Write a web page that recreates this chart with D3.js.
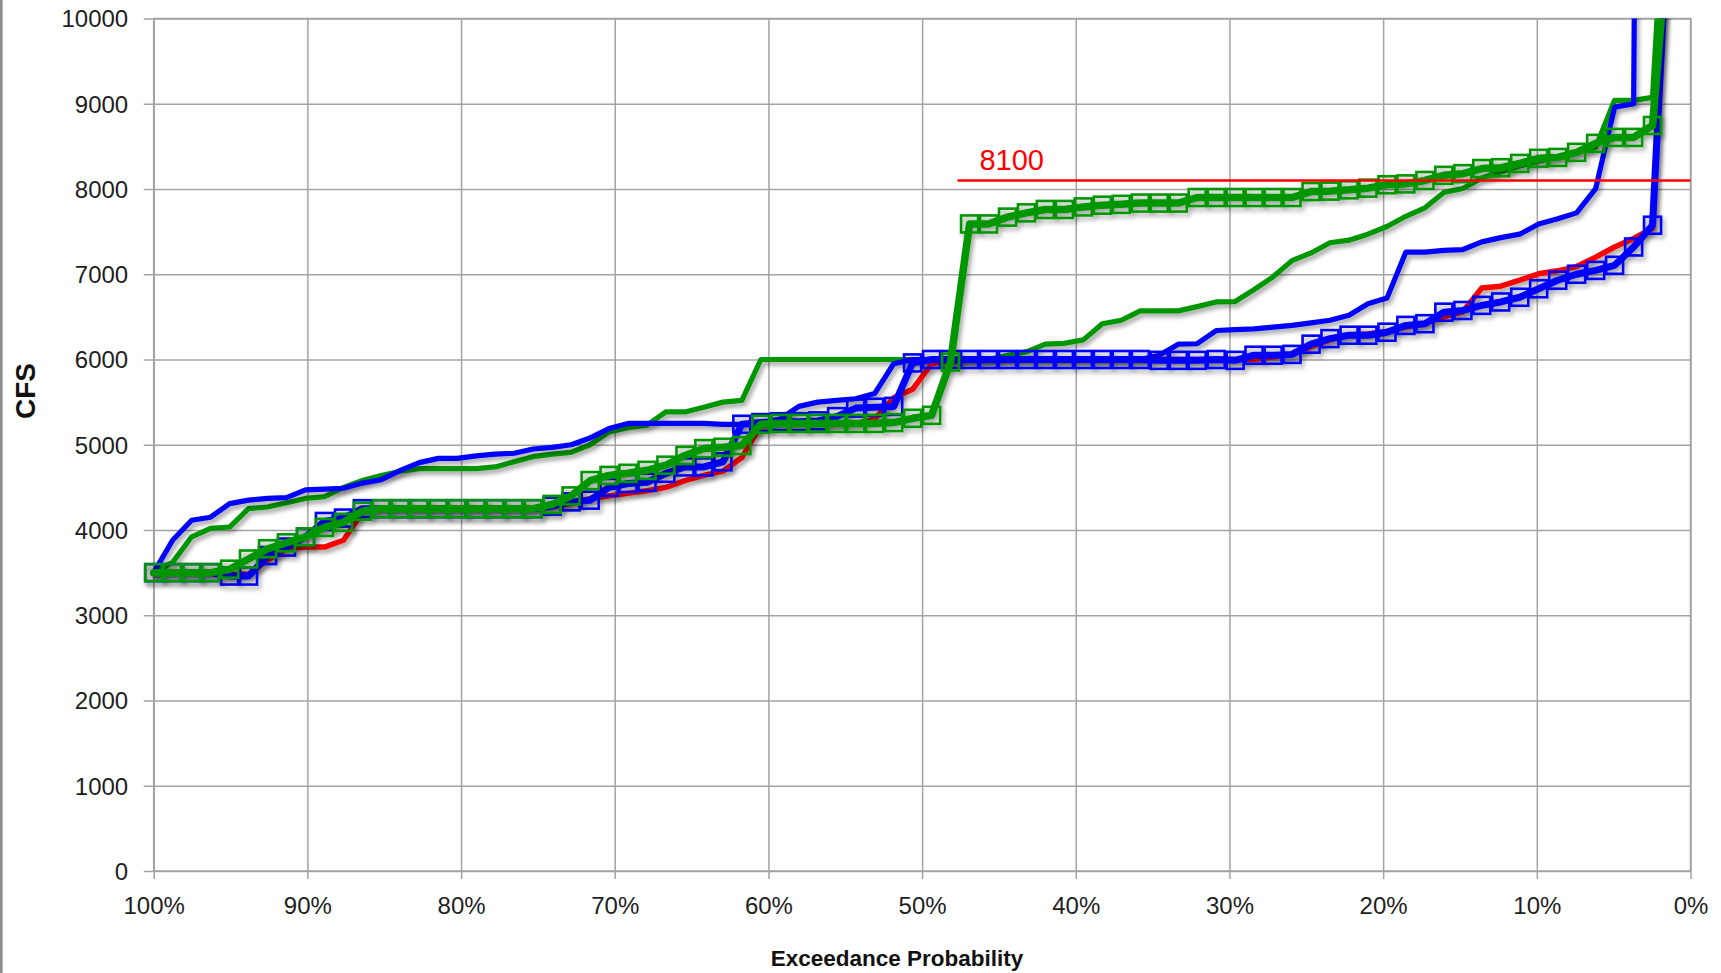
<!DOCTYPE html>
<html>
<head>
<meta charset="utf-8">
<script src="https://cdn.jsdelivr.net/npm/d3@7"></script>
<style>
  html, body { margin: 0; padding: 0; background: #fff; }
  svg { display: block; }
  text { font-family: "Liberation Sans", Arial, sans-serif; }
</style>
</head>
<body>
<svg id="chart" width="1721" height="973"></svg>
<script>
// ---------------- DATA ----------------
const exceedancePct = [100.00, 98.77, 97.53, 96.30, 95.06, 93.83, 92.59, 91.36, 90.12, 88.89,
  87.65, 86.42, 85.19, 83.95, 82.72, 81.48, 80.25, 79.01, 77.78, 76.54,
  75.31, 74.07, 72.84, 71.60, 70.37, 69.14, 67.90, 66.67, 65.43, 64.20,
  62.96, 61.73, 60.49, 59.26, 58.02, 56.79, 55.56, 54.32, 53.09, 51.85,
  50.62, 49.38, 48.15, 46.91, 45.68, 44.44, 43.21, 41.98, 40.74, 39.51,
  38.27, 37.04, 35.80, 34.57, 33.33, 32.10, 30.86, 29.63, 28.40, 27.16,
  25.93, 24.69, 23.46, 22.22, 20.99, 19.75, 18.52, 17.28, 16.05, 14.81,
  13.58, 12.35, 11.11, 9.88, 8.64, 7.41, 6.17, 4.94, 3.70, 2.47, 1.23];

const blueThin = [3500, 3880, 4115, 4150, 4310, 4350, 4370, 4380, 4470, 4480,
  4490, 4550, 4590, 4700, 4790, 4840, 4840, 4870, 4890, 4900,
  4950, 4970, 5000, 5080, 5190, 5250, 5250, 5250, 5250, 5250,
  5240, 5240, 5260, 5300, 5450, 5500, 5520, 5540, 5600, 5950,
  6000, 6000, 6000, 6000, 6000, 6000, 6000, 6000, 6000, 6000,
  6000, 6000, 6000, 6050, 6180, 6185, 6340, 6350, 6360, 6380,
  6400, 6430, 6460, 6520, 6655, 6720, 7260, 7260, 7280, 7290,
  7380, 7430, 7470, 7590, 7650, 7720, 8005, 8960, 9000, 40000, 50000];

const greenThin = [3500, 3620, 3920, 4020, 4035, 4250, 4270, 4320, 4370, 4390,
  4500, 4580, 4640, 4690, 4720, 4720, 4720, 4720, 4740, 4800,
  4860, 4890, 4910, 5000, 5150, 5200, 5230, 5385, 5385, 5440,
  5500, 5520, 6000, 6000, 6000, 6000, 6000, 6000, 6000, 6000,
  6000, 6000, 6000, 6000, 6000, 6050, 6090, 6180, 6190, 6230,
  6420, 6460, 6570, 6570, 6570, 6620, 6675, 6680, 6820, 6970,
  7160, 7250, 7370, 7400, 7470, 7560, 7680, 7780, 7960, 8005,
  8130, 8200, 8270, 8330, 8370, 8430, 8490, 9040, 9040, 9075, 13000];

const redSeries = [3500, 3500, 3500, 3500, 3480, 3480, 3650, 3780, 3800, 3800,
  3880, 4210, 4250, 4250, 4250, 4250, 4250, 4250, 4250, 4250,
  4250, 4280, 4310, 4370, 4400, 4430, 4460, 4500, 4580, 4640,
  4690, 4850, 5230, 5250, 5250, 5250, 5250, 5250, 5300, 5550,
  5650, 5950, 6000, 6000, 6000, 6000, 6000, 6000, 6000, 6000,
  6000, 6000, 6000, 6000, 6000, 6000, 6000, 6000, 6000, 6030,
  6060, 6150, 6230, 6290, 6300, 6330, 6380, 6420, 6500, 6560,
  6840, 6860, 6930, 7005, 7040, 7090, 7200, 7320, 7420, 7540, 12000];

const blueSquares = [3500, 3500, 3500, 3500, 3460, 3460, 3700, 3800, 3920, 4100,
  4140, 4250, 4250, 4250, 4250, 4250, 4250, 4250, 4250, 4250,
  4250, 4280, 4330, 4350, 4500, 4545, 4560, 4665, 4740, 4740,
  4800, 5240, 5260, 5270, 5270, 5280, 5330, 5430, 5440, 5450,
  5960, 6000, 6000, 6000, 6000, 6000, 6000, 6000, 6000, 6000,
  6000, 6000, 6000, 5990, 5990, 5990, 6000, 5990, 6050, 6050,
  6060, 6180, 6245, 6285, 6285, 6320, 6400, 6420, 6555, 6575,
  6635, 6675, 6730, 6830, 6930, 7000, 7045, 7105, 7320, 7575, 12000];

const greenSquares = [3500, 3500, 3500, 3500, 3540, 3660, 3780, 3850, 3920, 4030,
  4090, 4220, 4250, 4250, 4250, 4250, 4250, 4250, 4250, 4250,
  4250, 4300, 4400, 4580, 4640, 4665, 4700, 4760, 4875, 4955,
  4970, 4990, 5240, 5250, 5250, 5250, 5250, 5250, 5250, 5260,
  5310, 5345, 5970, 7590, 7590, 7670, 7720, 7760, 7760, 7790,
  7810, 7820, 7835, 7835, 7835, 7900, 7900, 7900, 7900, 7900,
  7900, 7970, 7975, 7990, 8010, 8050, 8060, 8100, 8160, 8180,
  8240, 8250, 8300, 8360, 8370, 8430, 8535, 8605, 8605, 8745, 11500];

const thresholdValue = 8100;
const thresholdSpan = [47.7, 0];
const thresholdLabel = "8100";

const yTicks = [0, 1000, 2000, 3000, 4000, 5000, 6000, 7000, 8000, 9000, 10000];
const xTicks = [100, 90, 80, 70, 60, 50, 40, 30, 20, 10, 0];
const xAxisTitle = "Exceedance Probability";
const yAxisTitle = "CFS";

// ---------------- LAYOUT ----------------
const W = 1721, H = 973;
const plotL = 153.7, plotR = 1690.5, plotT = 18.5, plotB = 871;
const gridColor = "#a3a3a3";

const svg = d3.select("#chart");
const x = d3.scaleLinear().domain([100, 0]).range([plotL, plotR]);
const y = d3.scaleLinear().domain([0, 10000]).range([plotB, plotT]);

const defs = svg.append("defs");
const f = defs.append("filter").attr("id", "shadow")
  .attr("filterUnits", "userSpaceOnUse")
  .attr("x", 0).attr("y", 0).attr("width", W).attr("height", H);
f.append("feDropShadow").attr("dx", 2.5).attr("dy", 3.5)
  .attr("stdDeviation", 2.2).attr("flood-color", "#000").attr("flood-opacity", 0.35);
defs.append("clipPath").attr("id", "clipTop")
  .append("rect").attr("x", 0).attr("y", plotT).attr("width", W).attr("height", H - plotT);

// outer chart border (left edge visible)
svg.append("line").attr("x1", 1.3).attr("x2", 1.3).attr("y1", 0).attr("y2", H)
  .attr("stroke", "#8c8c8c").attr("stroke-width", 2.6);

// gridlines
const gridY = svg.append("g").attr("transform", `translate(${plotL},0)`)
  .call(d3.axisLeft(y).tickValues(yTicks).tickSize(-(plotR - plotL)).tickFormat(""));
const gridX = svg.append("g").attr("transform", `translate(0,${plotB})`)
  .call(d3.axisBottom(x).tickValues(xTicks).tickSize(-(plotB - plotT)).tickFormat(""));
[gridY, gridX].forEach(g => {
  g.select(".domain").remove();
  g.selectAll("line").attr("stroke", gridColor).attr("stroke-width", 1.5);
});
svg.append("rect").attr("x", plotL).attr("y", plotT)
  .attr("width", plotR - plotL).attr("height", plotB - plotT)
  .attr("fill", "none").attr("stroke", gridColor).attr("stroke-width", 1.5);

// axes with tick marks & labels
const yAx = svg.append("g").attr("transform", `translate(${plotL},0)`)
  .call(d3.axisLeft(y).tickValues(yTicks).tickSize(10).tickPadding(15.5).tickFormat(d3.format("d")));
const xAx = svg.append("g").attr("transform", `translate(0,${plotB})`)
  .call(d3.axisBottom(x).tickValues(xTicks).tickSize(8).tickFormat(d => d + "%"));
[yAx, xAx].forEach(g => {
  g.select(".domain").remove();
  g.selectAll("line").attr("stroke", gridColor).attr("stroke-width", 1.5);
  g.selectAll("text").attr("fill", "#1e1e1e").attr("font-size", 24)
    .attr("font-family", '"Liberation Sans", Arial, sans-serif');
});
yAx.selectAll("text").attr("dy", "0.35em");
xAx.selectAll("text").attr("y", 42.5).attr("dy", 0);

// axis titles
svg.append("text").attr("x", 897).attr("y", 966).attr("text-anchor", "middle")
  .attr("font-size", 22.5).attr("font-weight", "bold").attr("fill", "#111")
  .text(xAxisTitle);
svg.append("text").attr("transform", "translate(35,391) rotate(-90)")
  .attr("text-anchor", "middle").attr("font-size", 28).attr("font-weight", "bold")
  .attr("fill", "#111").text(yAxisTitle);

// series
const line = d3.line().x(d => x(d.p)).y(d => y(d.v));
function drawSeries(values, color, width, markers) {
  const pts = exceedancePct.map((p, i) => ({ p, v: values[i] }));
  const g = svg.append("g").attr("clip-path", "url(#clipTop)")
    .append("g").attr("filter", "url(#shadow)");
  g.append("path").datum(pts).attr("d", line)
    .attr("fill", "none").attr("stroke", color).attr("stroke-width", width)
    .attr("stroke-linejoin", "round").attr("stroke-linecap", "round");
  if (markers) {
    const s = 17;
    g.selectAll("rect.m").data(pts).join("rect").attr("class", "m")
      .attr("x", d => x(d.p) - s / 2).attr("y", d => y(d.v) - s / 2)
      .attr("width", s).attr("height", s)
      .attr("fill", "none").attr("stroke", color).attr("stroke-width", 2.6);
  }
}
const BLUE = "#0000ff", GREEN = "#009600", RED = "#ff0000";
drawSeries(greenThin, GREEN, 5.2, false);
drawSeries(blueThin, BLUE, 5.2, false);
drawSeries(redSeries, RED, 5.5, false);
drawSeries(blueSquares, BLUE, 7, true);
drawSeries(greenSquares, GREEN, 7.5, true);

// threshold line + label
svg.append("line")
  .attr("x1", x(thresholdSpan[0])).attr("x2", x(thresholdSpan[1]))
  .attr("y1", y(thresholdValue)).attr("y2", y(thresholdValue))
  .attr("stroke", RED).attr("stroke-width", 2.5);
svg.append("text").attr("x", x(thresholdSpan[0]) + 22).attr("y", y(thresholdValue) - 10.5)
  .attr("font-size", 29).attr("fill", RED).text(thresholdLabel);
</script>
</body>
</html>
